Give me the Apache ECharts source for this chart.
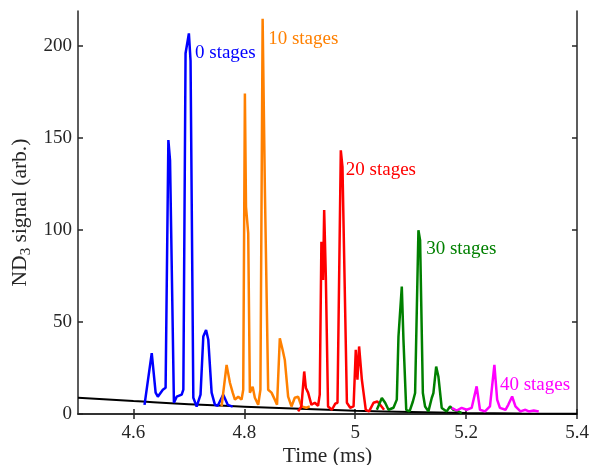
<!DOCTYPE html>
<html>
<head>
<meta charset="utf-8">
<script src="https://cdn.jsdelivr.net/npm/echarts@6/dist/echarts.min.js"></script>
<style>
  html, body { margin: 0; padding: 0; background: #fff; }
  #chart { width: 590px; height: 465px; }
</style>
</head>
<body>
<div id="chart"></div>
<script>
// time (ms) / signal pairs
const stage0T = [4.620, 4.633, 4.640, 4.644, 4.653, 4.658, 4.663, 4.666, 4.673, 4.678, 4.687, 4.690, 4.694, 4.700, 4.703, 4.708, 4.714, 4.721, 4.726, 4.731, 4.735, 4.741, 4.747, 4.752, 4.762, 4.770, 4.779];
const stage0V = [5.0, 33.1, 11.6, 9.4, 13.2, 14.3, 148.9, 137.9, 6.1, 9.4, 10.5, 13.2, 196, 206.8, 191.9, 8.8, 4.0, 10.5, 42.1, 45.7, 40.3, 11.6, 5.0, 4.5, 10.5, 5.0, 4.0];

const stage10T = [4.759, 4.768, 4.774, 4.779, 4.783, 4.789, 4.795, 4.798, 4.801, 4.803, 4.805, 4.807, 4.810, 4.815, 4.819, 4.825, 4.829, 4.833, 4.837, 4.843, 4.849, 4.855, 4.859, 4.864, 4.869, 4.873, 4.879, 4.885, 4.891, 4.897, 4.903, 4.912, 4.918];
const stage10V = [4.1, 26.7, 17.0, 11.6, 7.8, 9.4, 7.8, 13.2, 174.1, 112.6, 111.9, 98.3, 11.6, 14.8, 8.8, 5.0, 13.2, 214.8, 123.4, 13.2, 11.6, 7.8, 5.0, 41.2, 34.9, 29.4, 9.4, 4.1, 8.8, 9.4, 4.1, 3.4, 4.1];

const stage20T = [4.897, 4.903, 4.908, 4.911, 4.915, 4.921, 4.927, 4.933, 4.936, 4.939, 4.942, 4.944, 4.947, 4.951, 4.958, 4.964, 4.968, 4.974, 4.977, 4.985, 4.991, 4.997, 5.001, 5.004, 5.007, 5.012, 5.015, 5.019, 5.025, 5.033, 5.040, 5.045, 5.052];
const stage20V = [1.4, 4.1, 23.1, 14.1, 11.6, 5.0, 6.1, 4.5, 10.5, 93.6, 72.8, 110.8, 74.6, 4.1, 2.3, 5.6, 6.1, 143.3, 134.3, 6.1, 3.4, 4.1, 34.9, 18.6, 36.7, 18.6, 11.6, 2.3, 1.4, 6.1, 6.8, 5.0, 2.3];

const stage30T = [5.039, 5.048, 5.054, 5.060, 5.069, 5.075, 5.078, 5.081, 5.084, 5.087, 5.092, 5.098, 5.104, 5.108, 5.114, 5.117, 5.122, 5.126, 5.132, 5.138, 5.141, 5.146, 5.150, 5.156, 5.165, 5.171, 5.177, 5.186, 5.192];
const stage30V = [2.3, 8.7, 6.1, 2.3, 3.4, 7.8, 42.1, 43.0, 69.2, 40.3, 2.3, 1.4, 6.8, 11.4, 99.9, 94.5, 11.4, 4.1, 1.4, 8.7, 11.4, 25.8, 20.4, 3.3, 1.4, 4.1, 2.3, 1.4, 0.5];

const stage40T = [5.174, 5.183, 5.192, 5.201, 5.210, 5.219, 5.225, 5.234, 5.243, 5.251, 5.256, 5.261, 5.271, 5.276, 5.283, 5.289, 5.298, 5.307, 5.313, 5.322, 5.331];
const stage40V = [3.3, 1.9, 3.3, 2.3, 3.3, 15.0, 2.3, 1.4, 4.1, 26.7, 7.8, 3.3, 2.3, 5.0, 9.5, 4.1, 1.4, 2.3, 1.4, 1.9, 1.4];

// background decay (black line)
const baseT = [4.5, 4.6, 4.7, 4.8, 4.9, 5.0, 5.1, 5.2, 5.3, 5.4];
const baseV = [8.8, 7.0, 5.3, 4.0, 2.8, 1.8, 1.1, 0.6, 0.3, 0.1];

const stageNames = ['0 stages', '10 stages', '20 stages', '30 stages', '40 stages'];
const stageColors = ['#0000ff', '#ff8000', '#ff0000', '#008000', '#ff00ff'];
// where each label sits (left edge, vertical middle), data coords
const labelT = [4.711, 4.843, 4.983, 5.128, 5.261];
const labelV = [196, 204, 132.4, 89.6, 15.9];

const xTicks = [4.6, 4.8, 5, 5.2, 5.4];
const yTicks = [0, 50, 100, 150, 200];

const FONT = '"Liberation Serif", "Times New Roman", serif';
const AXIS = '#262626';

const pairs = (t, v) => t.map((x, i) => [x, v[i]]);
const stageData = [
  pairs(stage0T, stage0V),
  pairs(stage10T, stage10V),
  pairs(stage20T, stage20V),
  pairs(stage30T, stage30V),
  pairs(stage40T, stage40V),
];

const chart = echarts.init(document.getElementById('chart'), null, { renderer: 'canvas' });

const xBase = {
  type: 'value', min: 4.5, max: 5.4,
  axisLine: { lineStyle: { color: AXIS, width: 1.5 } },
  axisTick: { inside: true, length: 5, customValues: xTicks, lineStyle: { color: AXIS, width: 1.5 } },
  splitLine: { show: false },
};
const yBase = {
  type: 'value', min: 0, max: 219,
  axisLine: { show: true, lineStyle: { color: AXIS, width: 1.5 } },
  axisTick: { show: true, inside: true, length: 5, customValues: yTicks, lineStyle: { color: AXIS, width: 1.5 } },
  splitLine: { show: false },
};

const series = [{
  type: 'line',
  data: pairs(baseT, baseV),
  smooth: true,
  showSymbol: false,
  lineStyle: { color: '#000', width: 2 },
  z: 1,
}];

stageData.forEach((d, i) => {
  series.push({
    name: stageNames[i],
    type: 'line',
    data: d,
    showSymbol: false,
    lineStyle: { color: stageColors[i], width: 2.5 },
    z: 2 + i,
    markPoint: {
      symbol: 'circle',
      symbolSize: 0,
      data: [{ coord: [labelT[i], labelV[i]] }],
      label: {
        show: true,
        position: 'right',
        distance: 0,
        formatter: stageNames[i],
        color: stageColors[i],
        fontFamily: FONT,
        fontSize: 19,
      },
    },
  });
});

chart.setOption({
  animation: false,
  grid: { left: 78, right: 13, top: 11, bottom: 51, outerBoundsMode: 'none', containLabel: false },
  xAxis: [
    Object.assign({}, xBase, {
      position: 'bottom',
      name: 'Time (ms)',
      nameLocation: 'middle',
      nameMoveOverlap: false,
      nameGap: 31,
      nameTextStyle: { fontFamily: FONT, fontSize: 21.5, color: AXIS },
      axisLabel: { customValues: xTicks, margin: 10, fontFamily: FONT, fontSize: 19, color: AXIS },
    }),
    Object.assign({}, xBase, { position: 'top', axisLabel: { show: false, customValues: xTicks } }),
  ],
  yAxis: [
    Object.assign({}, yBase, {
      position: 'left',
      name: '{a|ND}{s|3}{a| signal (arb.)}',
      nameLocation: 'middle',
      nameMoveOverlap: false,
      nameGap: 44,
      nameTextStyle: {
        color: AXIS,
        rich: {
          a: { fontFamily: FONT, fontSize: 21.5, color: AXIS },
          s: { fontFamily: FONT, fontSize: 15, color: AXIS, padding: [12, 0, 0, 0] },
        },
      },
      axisLabel: { customValues: yTicks, margin: 6, fontFamily: FONT, fontSize: 19, color: AXIS },
    }),
    Object.assign({}, yBase, { position: 'right', axisLabel: { show: false, customValues: yTicks } }),
  ],
  series: series,
});
</script>
</body>
</html>
